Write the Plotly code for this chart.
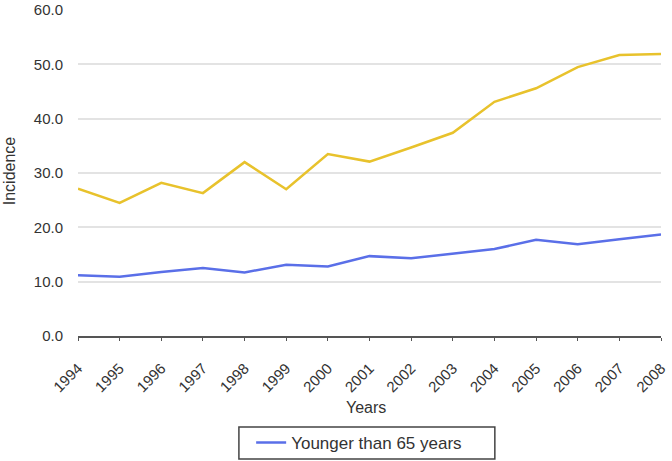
import plotly.graph_objects as go

years = [str(y) for y in range(1994, 2009)]
older = [27.1, 24.5, 28.2, 26.3, 32.0, 27.0, 33.5, 32.1, 34.7, 37.4, 43.1, 45.6, 49.5, 51.7, 51.9]
younger = [11.2, 10.9, 11.8, 12.5, 11.7, 13.1, 12.8, 14.7, 14.3, 15.2, 16.0, 17.7, 16.9, 17.8, 18.7]
y_ticks = [0, 10, 20, 30, 40, 50, 60]
y_tick_labels = [f"{v:.1f}" for v in y_ticks]

fig = go.Figure()
fig.add_trace(go.Scatter(x=years, y=older, mode="lines", name="65 years and older",
                         line=dict(color="#E8C22C", width=2.5), showlegend=False))
fig.add_trace(go.Scatter(x=years, y=younger, mode="lines", name="Younger than 65 years",
                         line=dict(color="#5A6FE8", width=2.5)))

font_family = "Liberation Sans, Arial, Helvetica, sans-serif"
txt = "#333333"
fig.update_layout(
    width=672, height=461,
    margin=dict(l=78, r=11, t=10, b=125, autoexpand=False),
    paper_bgcolor="white", plot_bgcolor="white",
    font=dict(family=font_family, size=15, color=txt),
    legend=dict(orientation="h", x=0.297, xanchor="left", y=-0.328, yanchor="middle",
                borderwidth=0, bgcolor="rgba(0,0,0,0)", font=dict(size=17, color=txt),
                itemwidth=30),
    shapes=[
        dict(type="rect", xref="paper", yref="paper", x0=0.276, x1=0.715, y0=-0.279, y1=-0.377,
             line=dict(color="#444444", width=1.5), fillcolor="rgba(0,0,0,0)", layer="below"),
    ],
    annotations=[
        dict(text="Incidence", xref="paper", yref="paper", x=-0.118, y=0.506,
             xanchor="center", yanchor="middle", textangle=-90, showarrow=False,
             font=dict(size=16, color=txt)),
        dict(text="Years", xref="paper", yref="paper", x=0.494, y=-0.218,
             xanchor="center", yanchor="middle", showarrow=False,
             font=dict(size=16, color=txt)),
    ],
)
fig.update_xaxes(
    type="category", range=[0, 14], tickangle=-45,
    showline=True, linecolor="#555555", linewidth=1.5,
    ticks="outside", ticklen=3, tickcolor="#555555",
    showgrid=False, zeroline=False, ticklabelstandoff=13,
    tickfont=dict(size=15, color=txt),
    automargin=False,
)
fig.update_yaxes(
    range=[0, 60], tickvals=y_ticks, ticktext=y_tick_labels,
    showgrid=True, gridcolor="#E3E3E3", gridwidth=2,
    showline=False, zeroline=False, ticks="", ticklabelstandoff=14,
    tickfont=dict(size=15, color=txt),
    automargin=False,
)
fig.write_html("out.html", config={"displayModeBar": False},
               post_script="document.body.style.margin='0';document.body.style.overflow='hidden';")
